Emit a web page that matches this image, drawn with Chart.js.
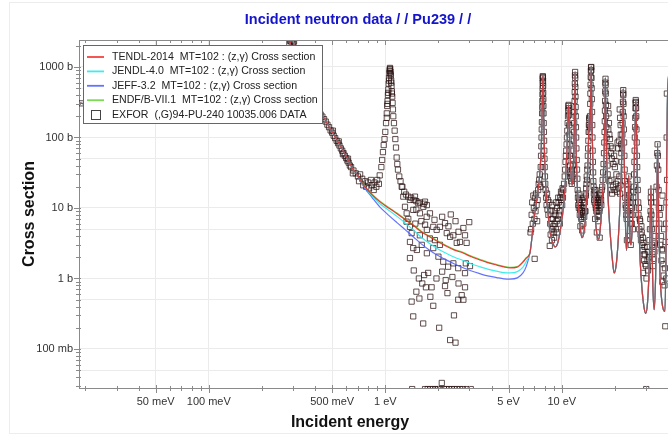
<!DOCTYPE html>
<html>
<head>
<meta charset="utf-8">
<title>Incident neutron data / / Pu239 / /</title>
<script src="https://cdn.jsdelivr.net/npm/chart.js@4.4.1/dist/chart.umd.min.js"></script>
<style>
    html, body { margin: 0; padding: 0; background: #fff; overflow: hidden; width: 668px; height: 435px; }
    canvas { display: block; }
</style>
</head>
<body>
<canvas id="xsChart" width="716" height="435"></canvas>
<script>
// Evaluated (n,g) curves, smooth part below the resolved resonances (energy in eV, xs in barns)
const lowEnergy = [0.0184, 0.0253, 0.035, 0.05, 0.07, 0.1, 0.14, 0.18, 0.22, 0.25,
    0.27, 0.285, 0.296, 0.305, 0.32, 0.35, 0.39, 0.44, 0.5, 0.55,
    0.6, 0.65, 0.7, 0.75, 0.84, 0.93, 1.05, 1.165, 1.3, 1.45,
    1.6, 1.79, 2.0, 2.2, 2.45, 2.76, 3.05, 3.4, 3.8, 4.28,
    4.7, 5.09, 5.6, 6.03, 6.3];
const tendlLow = [309, 268, 232, 200, 178, 168, 180, 225, 330, 560,
    1000, 1800, 2600, 2000, 1000, 520, 320, 205, 120, 80,
    54, 37, 28.5, 21.5, 15.5, 12.3, 9.9, 8.3, 6.8, 5.6,
    4.6, 3.88, 3.3, 2.9, 2.55, 2.3, 2.05, 1.85, 1.68, 1.55,
    1.46, 1.41, 1.45, 1.71, 1.95];
const jendlLow = [309, 268, 232, 200, 178, 168, 180, 225, 330, 560,
    1000, 1800, 2600, 2000, 1000, 520, 320, 205, 120, 80,
    54, 37, 28.5, 21, 15, 11.6, 9.2, 7.6, 6.1, 4.8,
    3.85, 3.1, 2.6, 2.3, 2.02, 1.8, 1.62, 1.48, 1.36, 1.27,
    1.21, 1.2, 1.25, 1.45, 1.75];
const jeffLow = [309, 268, 232, 200, 178, 168, 180, 225, 330, 560,
    1000, 1800, 2600, 2000, 1000, 520, 320, 205, 120, 80,
    54, 37, 28.5, 20.5, 14.2, 10.4, 7.8, 6.2, 4.9, 3.85,
    3.1, 2.5, 2.1, 1.85, 1.62, 1.42, 1.29, 1.18, 1.09, 1.03,
    0.99, 0.98, 1.02, 1.2, 1.5];
const endfLow = [309, 268, 232, 200, 178, 168, 180, 225, 330, 560,
    1000, 1800, 2600, 2000, 1000, 520, 320, 205, 120, 80,
    54, 37, 28.5, 21.9, 15.8, 12.55, 10.1, 8.47, 6.94, 5.71,
    4.69, 3.96, 3.37, 2.96, 2.6, 2.35, 2.09, 1.89, 1.71, 1.58,
    1.49, 1.44, 1.48, 1.74, 1.99];

// Resolved resonance region, shared by the four evaluations
const resEnergy = [6.6, 6.75, 6.9, 7.1, 7.3, 7.45, 7.55, 7.65, 7.72, 7.77,
    7.80, 7.82, 7.84, 7.87, 7.92, 8.0, 8.15, 8.35, 8.6, 8.9,
    9.15, 9.45, 9.75, 10.1, 10.35, 10.55, 10.7, 10.8, 10.88, 10.93,
    10.98, 11.05, 11.15, 11.3, 11.45, 11.6, 11.7, 11.78, 11.84, 11.89,
    11.94, 12.0, 12.1, 12.25, 12.5, 12.75, 13.0, 13.3, 13.6, 13.85,
    14.05, 14.2, 14.31, 14.4, 14.5, 14.6, 14.68, 14.76, 14.85, 15.0,
    15.2, 15.5, 15.8, 16.1, 16.4, 16.8, 17.1, 17.35, 17.5, 17.6,
    17.66, 17.72, 17.82, 18.0, 18.3, 18.8, 19.3, 19.8, 20.3, 20.8,
    21.3, 21.7, 22.0, 22.2, 22.29, 22.38, 22.55, 22.75, 23.0, 23.25,
    23.55, 23.8, 23.95, 24.1, 24.35, 24.7, 25.1, 25.5, 25.8, 26.05,
    26.18, 26.27, 26.38, 26.55, 26.85, 27.3, 27.8, 28.5, 29.2, 29.9,
    30.6, 31.2, 31.65, 32.0, 32.35, 32.8, 33.4, 34.0, 34.5, 34.9,
    35.3, 36.0, 37.0, 38.4, 39.0, 39.3, 39.6, 40.0, 41.0];
const resXs = [2.3, 3.5, 6, 10, 16, 25, 38, 70, 160, 380,
    700, 760, 640, 330, 130, 50, 17, 8.5, 4.4, 3.2,
    2.8, 3.1, 4.4, 8, 15, 32, 68, 135, 240, 290,
    230, 120, 55, 28, 21, 30, 55, 130, 400, 860,
    420, 140, 50, 20, 8.5, 5, 3.8, 4.3, 7, 15,
    40, 110, 200, 120, 170, 500, 1030, 480, 150, 45,
    16, 7, 4.3, 3.6, 4.2, 9, 20, 55, 130, 380,
    700, 380, 130, 45, 14, 4.5, 2, 1.2, 1.5, 3,
    9, 28, 90, 280, 490, 280, 70, 18, 5, 2.5,
    4, 14, 29, 12, 4, 3, 5.5, 16, 55, 150,
    270, 340, 250, 100, 25, 6, 1.8, 0.7, 0.4, 0.32,
    0.45, 1.2, 5, 21, 5, 0.8, 0.36, 1.0, 8, 83,
    10, 1.2, 0.45, 0.34, 3, 40, 250, 600, 900];

// EXFOR 10035.006 measured points (eV, barns)
const exforEnergy = [
    0.019, 0.286, 0.289, 0.292, 0.295, 0.298, 0.301, 0.304,
    0.42, 0.43, 0.44, 0.45, 0.46, 0.47, 0.48, 0.49, 0.50, 0.505, 0.51, 0.52, 0.53, 0.54, 0.545, 0.55, 0.56, 0.57, 0.575, 0.58, 0.59, 0.60, 0.61, 0.615, 0.62, 0.63, 0.64, 0.655, 0.66, 0.68, 0.70,
    0.71, 0.72, 0.74, 0.75, 0.77, 0.78, 0.80, 0.81, 0.83, 0.84, 0.86, 0.87, 0.89, 0.90, 0.92, 0.93, 0.95, 0.96,
    0.97, 0.98, 0.99, 1.00, 1.01, 1.02, 1.025, 1.03, 1.035, 1.04, 1.045, 1.05, 1.055, 1.06, 1.063, 1.066, 1.07, 1.075, 1.08, 1.085, 1.09, 1.095, 1.10, 1.105, 1.11, 1.12, 1.13, 1.14, 1.15, 1.16, 1.17, 1.18, 1.20, 1.22, 1.25, 1.28, 1.31, 1.35, 1.40, 1.45, 1.50, 1.57, 1.65, 1.72,
    1.04, 1.05, 1.06, 1.07, 1.08, 1.09, 1.03, 1.02,
    1.239, 1.265, 1.293, 1.322, 1.38, 1.441, 1.473, 1.538, 1.572, 1.642, 1.679, 1.716, 1.791, 1.87, 1.955, 2.04, 2.18, 2.23, 2.35, 2.33, 2.43, 2.54, 2.65, 2.77, 2.83,
    1.41, 1.38, 1.44, 1.51, 1.61, 1.72, 1.87, 2.0, 2.13, 2.27, 2.43, 2.59, 1.38, 1.32, 1.57, 1.72, 1.79, 1.91, 2.04,
    1.38, 1.41, 1.44, 1.56, 1.64, 1.66, 1.70, 1.83, 1.87, 2.02, 2.18, 2.33, 2.45, 2.50, 2.59, 2.71, 2.77, 2.83, 2.83, 2.89, 2.99, 3.02, 2.86,
    1.45, 1.55, 1.62, 1.75, 1.95, 2.1, 2.2, 2.4, 2.6, 2.25, 1.5, 1.8,
    1.35, 1.48, 1.6, 1.68, 1.5, 1.9, 2.1, 2.28, 2.5, 2.6,
    1.42, 1.68, 1.74, 1.8, 1.86, 1.92, 1.98, 2.04, 2.09, 2.15, 2.22, 2.3, 2.38, 2.46, 2.55, 2.65, 2.75, 2.9, 3.05, 30.1,
    6.65, 6.7, 6.75, 6.8, 6.85, 6.9, 6.95, 7.0, 7.02, 7.05, 7.1, 7.15, 7.2, 7.25, 7.3, 7.35, 7.4,
    7.45, 7.5, 7.55, 7.6, 7.63, 7.66, 7.68, 7.7, 7.72, 7.74, 7.75, 7.76, 7.77, 7.78, 7.79, 7.80, 7.81, 7.82, 7.83, 7.84, 7.85, 7.86, 7.87, 7.88, 7.9, 7.92, 7.94, 7.96, 7.98, 8.0, 8.03, 8.06, 8.1,
    8.15, 8.2, 8.25, 8.3, 8.35, 8.4, 8.5, 8.55, 8.6, 8.65, 8.7, 8.75, 8.8, 8.8, 8.85, 8.9, 8.95, 9.0, 9.05, 9.1, 9.15, 9.2, 9.25, 9.3, 9.35, 9.4, 9.45, 9.5, 9.55, 9.6, 9.65, 9.7, 9.75, 9.8, 9.85, 9.9, 9.95, 10.0, 10.05, 10.1, 10.15,
    10.2, 10.3, 10.4, 10.45, 10.5, 10.55, 10.6, 10.65, 10.7, 10.75, 10.8, 10.85, 10.88, 10.91, 10.93, 10.96, 10.99, 11.02, 11.05, 11.08, 11.12, 11.16, 11.2,
    11.25, 11.3, 11.35, 11.4, 11.45, 11.5, 11.55, 11.6, 11.65, 11.7, 11.73, 11.76, 11.79, 11.82, 11.84, 11.86, 11.88, 11.9, 11.92, 11.94, 11.96, 11.98, 12.0, 12.03, 12.06, 12.1, 12.15, 12.2, 12.25,
    12.3, 12.35, 12.4, 12.45, 12.5, 12.55, 12.6, 12.65, 12.7, 12.75, 12.8, 12.85, 12.9, 12.95, 13.0, 13.05, 13.1, 13.15, 13.2, 13.25, 13.3, 13.35, 13.4, 13.45, 13.5, 13.55, 13.6, 13.65, 13.7, 13.75, 13.8,
    13.85, 13.9, 13.95, 14.0, 14.05, 14.1, 14.15, 14.2, 14.25, 14.3, 14.33, 14.36, 14.4, 14.43, 14.46, 14.5, 14.53, 14.56, 14.59, 14.62, 14.65, 14.68, 14.71, 14.74, 14.77, 14.8, 14.84, 14.88, 14.92, 14.96, 15.0, 15.05, 15.1,
    15.15, 15.2, 15.25, 15.3, 15.35, 15.4, 15.45, 15.5, 15.55, 15.6, 15.65, 15.7, 15.75, 15.8, 15.85, 15.9, 15.95, 16.0, 16.05, 16.1, 16.15, 16.2, 16.25, 16.3, 16.35, 16.4, 16.45, 16.5, 16.55, 16.6, 16.7, 16.75, 16.85,
    16.95, 17.05, 17.15, 17.25, 17.35, 17.42, 17.48, 17.53, 17.57, 17.6, 17.63, 17.66, 17.69, 17.72, 17.75, 17.79, 17.83, 17.88, 17.94, 18.0, 18.07, 18.15,
    18.3, 18.4, 18.5, 18.35, 18.6, 18.75, 18.9, 19.0, 19.2, 19.4, 19.6, 19.8, 20.0, 20.2, 20.4, 19.1, 19.5, 19.9, 20.3, 20.6, 20.8, 21.0, 21.2, 21.4, 21.5, 21.3, 21.4, 21.55, 21.6, 21.7, 21.75, 20.7, 20.9, 21.1, 18.2, 18.6, 18.9, 19.3,
    21.85, 21.95, 22.05, 22.12, 22.18, 22.23, 22.27, 22.3, 22.33, 22.37, 22.42, 22.48, 22.55, 22.63, 22.72, 22.8,
    22.9, 23.0, 23.1, 23.2, 23.3, 23.4, 23.5, 23.6, 23.7, 23.8, 23.9, 24.0, 24.1, 24.2, 24.3, 24.4, 24.5, 24.6, 24.7, 24.8, 24.9, 25.0, 25.1, 25.2, 25.3, 25.4, 25.5,
    25.6, 25.7, 25.8, 25.88, 25.95, 26.02, 26.08, 26.14, 26.2, 26.25, 26.3, 26.36, 26.42, 26.5, 26.58, 26.66, 26.75, 26.85, 26.95,
    27.1, 27.2, 27.35, 27.5, 27.65, 27.8, 27.95, 28.1, 28.25, 28.4, 28.55, 28.7, 28.85, 28.9, 29.0, 29.15, 29.3, 29.45, 29.6, 29.75, 30.0, 30.2, 30.4, 30.6, 30.8, 31.0, 31.2, 31.4,
    31.6, 31.75, 31.85, 31.95, 32.02, 32.1, 32.2, 32.35, 32.5, 32.7, 32.9, 33.1, 33.3, 33.5, 33.7, 33.9, 34.1, 34.3, 34.45, 34.6, 34.75, 34.9, 35.05, 35.2, 35.35, 35.5,
    35.7, 35.9, 36.1, 36.3, 36.5, 36.7, 36.9, 37.1, 37.2, 37.35, 37.6, 37.8, 38.0, 38.2, 38.4, 38.6, 38.8, 39.0, 39.1, 39.2, 39.3, 39.4, 39.5
];
const exforXs = [
    305, 2200, 2350, 2300, 2380, 2250, 2150, 2300,
    230, 212, 198, 182, 168, 152, 140, 126, 117, 125, 106, 98, 90, 83, 88, 77, 70, 65, 58, 60, 55, 51, 47, 50, 44, 40, 38, 31, 34, 31, 28,
    24, 30, 26, 21, 24, 20, 23, 19, 25, 21, 18, 23, 20, 25, 22, 29, 38, 48,
    62, 78, 95, 120, 160, 220, 280, 330, 400, 480, 580, 700, 820, 920, 970, 940, 860, 760, 640, 540, 450, 380, 310, 250, 200, 160, 125, 95, 72, 52, 42, 35, 28, 24, 20, 17, 15.5, 14.5, 14, 13, 12.5, 12, 11.5, 11,
    430, 640, 880, 800, 600, 420, 300, 190,
    20.0, 14.5, 10.4, 8.4, 13.0, 9.4, 14.5, 11.7, 8.4, 10.4, 12.3, 7.5, 8.4, 5.4, 4.9, 5.4, 6.1, 4.4, 8.1, 3.9, 4.1, 3.2, 3.3, 5.2, 4.1,
    4.4, 3.3, 2.7, 2.54, 3.0, 2.28, 2.7, 2.04, 1.73, 1.47, 1.64, 1.40, 5.4, 6.4, 4.1, 4.9, 3.7, 3.5, 3.0,
    1.95, 0.47, 0.29, 0.52, 0.23, 1.12, 0.75, 0.75, 0.41, 0.20, 0.78, 0.134, 0.30, 0.123, 0.50, 0.58, 0.50, 0.75, 1.19, 3.2, 6.3, 1.50, 1.64,
    1.3, 1.0, 0.85, 1.2, 1.0, 1.25, 0.95, 1.05, 0.85, 0.62, 0.65, 0.55,
    7, 6, 6.5, 5.8, 9.5, 6.8, 7.5, 5.5, 6.5, 4.6,
    0.027, 0.027, 0.027, 0.027, 0.027, 0.027, 0.027, 0.027, 0.033, 0.027, 0.027, 0.027, 0.027, 0.027, 0.027, 0.027, 0.027, 0.027, 0.027, 0.027,
    4.5, 5, 8, 12, 6, 15, 10, 7, 1.9, 14, 9, 16, 11, 6.5, 13, 18, 22,
    25, 30, 20, 38, 55, 75, 100, 130, 165, 220, 270, 330, 410, 500, 600, 690, 740, 720, 640, 540, 430, 350, 280, 220, 160, 120, 90, 65, 50, 38, 28, 22, 18,
    14, 11, 16, 9.5, 13, 8, 12, 2.9, 6, 4.2, 9, 7, 5, 3.5, 11, 7, 5.5, 4.5, 3.8, 6, 9, 8, 5, 12, 6.5, 10, 4.5, 7, 14, 12, 8, 9, 6, 14, 11, 17, 13, 16, 11, 19, 14,
    18, 22, 28, 35, 45, 55, 65, 80, 100, 125, 160, 200, 240, 280, 290, 260, 210, 150, 110, 80, 55, 40, 32,
    27, 24, 30, 22, 35, 28, 40, 50, 65, 90, 120, 160, 230, 330, 440, 580, 760, 850, 700, 520, 380, 270, 200, 140, 100, 70, 48, 35, 26,
    18, 14, 11, 16, 10, 13, 12, 8, 9.5, 5.5, 11, 7.5, 7, 10, 9, 4.8, 13, 8, 8.5, 6, 10, 12, 7.5, 14, 12, 9, 9, 16, 15, 19, 22,
    28, 25, 35, 40, 55, 70, 90, 120, 150, 190, 180, 150, 120, 140, 200, 300, 420, 560, 720, 880, 990, 1000, 900, 700, 500, 350, 230, 150, 100, 65, 45, 32, 24,
    20, 16, 13, 18, 12, 15, 7, 18, 11, 10, 13, 9, 14, 4.5, 11, 9, 13, 12, 7.5, 6.5, 8, 11, 14, 13, 9, 3.8, 10, 12, 16, 15, 13, 11, 18,
    20, 25, 32, 42, 60, 85, 120, 170, 240, 330, 450, 600, 680, 560, 420, 290, 200, 140, 100, 75, 55, 40,
    280, 220, 160, 130, 110, 95, 75, 60, 50, 70, 42, 55, 38, 46, 30, 25, 20, 18, 22, 17, 24, 19, 28, 16, 21, 250, 190, 150, 110, 80, 60, 85, 70, 90, 30, 24, 18, 16,
    45, 70, 110, 160, 230, 320, 420, 470, 400, 300, 200, 130, 85, 55, 35, 24,
    14, 11, 10, 8, 7, 3.5, 12, 9, 18, 22, 28, 4, 15, 12, 9, 7, 8, 3.0, 6, 10, 6, 10, 8, 12, 5, 14, 17,
    20, 30, 45, 65, 100, 140, 190, 260, 310, 340, 320, 260, 200, 130, 85, 55, 38, 25, 18,
    12, 8, 10, 5, 7, 6.5, 4.2, 3.5, 5.5, 4.5, 3, 2.5, 3.8, 1.2, 3.2, 2.2, 1.8, 2.8, 2.2, 1.6, 1.5, 1.0, 2.8, 1.8, 1.3, 2.4, 2, 3.5,
    5, 7, 9, 14, 17, 12, 8, 5, 3, 2.2, 1.5, 2.8, 1.9, 2.4, 3.2, 4, 6, 12, 20, 40, 60, 80, 55, 35, 18, 10,
    6, 8, 3, 10, 4, 1.8, 2.6, 0.9, 15, 2.5, 1.6, 1.1, 5, 0.8, 1.4, 0.21, 3.3, 6, 1.0, 12, 100, 420, 25
];

// Axis ranges and labelled ticks
const xMin = 0.01839;
const xMax = 60.7;
const yMin = 0.02797;
const yMax = 2415;
const xLabelValues = [0.05, 0.1, 0.5, 1, 5, 10, 50];
const xLabelText = ['50 meV', '100 meV', '500 meV', '1 eV', '5 eV', '10 eV', '50 eV'];
const yLabelValues = [0.1, 1, 10, 100, 1000];
const yLabelText = ['100 mb', '1 b', '10 b', '100 b', '1000 b'];

const seriesLabels = [
    'TENDL-2014  MT=102 : (z,\u03b3) Cross section',
    'JENDL-4.0  MT=102 : (z,\u03b3) Cross section',
    'JEFF-3.2  MT=102 : (z,\u03b3) Cross section',
    'ENDF/B-VII.1  MT=102 : (z,\u03b3) Cross section',
    'EXFOR  (,G)94-PU-240 10035.006 DATA'
];

const frameColor = '#8a8a8a';
const gridColor = '#ebebeb';
const fontFamily = '"Liberation Sans", Arial, Helvetica, sans-serif';

function decadeTicks(min, max) {
    const out = [];
    for (let d = Math.floor(Math.log10(min)); d <= Math.ceil(Math.log10(max)); d++) {
        for (let m = 1; m <= 9; m++) {
            const v = Number((m * Math.pow(10, d)).toPrecision(6));
            if (v >= min && v <= max) out.push(v);
        }
    }
    return out;
}

function sameValue(a, b) {
    return Math.abs(a - b) <= 1e-9 * Math.max(Math.abs(a), Math.abs(b));
}

function labelFor(v, values, texts) {
    const i = values.findIndex(u => sameValue(u, v));
    return i < 0 ? '' : texts[i];
}

// grid lines only at 1x and 5x of each decade
function isGridValue(v) {
    const m = v / Math.pow(10, Math.floor(Math.log10(v) + 1e-9));
    return Math.abs(m - 1) < 1e-6 || Math.abs(m - 5) < 1e-6;
}

function toPoints(energies, values) {
    return energies.map((e, i) => ({ x: e, y: values[i] }));
}

const curveEnergy = lowEnergy.concat(resEnergy);
const xTicks = decadeTicks(xMin, xMax);
const yTicks = decadeTicks(yMin, yMax);

function curve(label, values, color) {
    return {
        label: label,
        data: toPoints(curveEnergy, values.concat(resXs)),
        showLine: true,
        borderColor: color,
        backgroundColor: color,
        borderWidth: 1.2,
        pointRadius: 0,
        cubicInterpolationMode: 'monotone',
        fill: false
    };
}

// Legend box, axis titles, page title, tick marks and frame
const decorPlugin = {
    id: 'decor',
    beforeDraw(chart) {
        const { ctx } = chart;
        ctx.save();
        ctx.fillStyle = '#fff';
        ctx.fillRect(0, 0, chart.width, chart.height);
        ctx.strokeStyle = '#ededed';
        ctx.lineWidth = 1;
        ctx.strokeRect(9.5, 2.5, chart.width, chart.height - 4);
        ctx.restore();
    },
    afterDraw(chart) {
        const { ctx, chartArea: area, scales: { x, y } } = chart;
        ctx.save();

        // top frame line
        ctx.strokeStyle = frameColor;
        ctx.lineWidth = 1;
        ctx.beginPath();
        ctx.moveTo(area.left, area.top + 0.5);
        ctx.lineTo(area.right, area.top + 0.5);
        ctx.stroke();

        // tick marks
        ctx.beginPath();
        x.ticks.forEach(t => {
            const px = Math.round(x.getPixelForValue(t.value)) + 0.5;
            const major = labelFor(t.value, xLabelValues, xLabelText) !== '';
            ctx.moveTo(px, area.bottom - (major ? 3 : 2));
            ctx.lineTo(px, area.bottom + (major ? 5 : 3));
            ctx.moveTo(px, area.top);
            ctx.lineTo(px, area.top + (major ? 5 : 3));
        });
        y.ticks.forEach(t => {
            const py = Math.round(y.getPixelForValue(t.value)) + 0.5;
            const major = labelFor(t.value, yLabelValues, yLabelText) !== '';
            ctx.moveTo(area.left - (major ? 5 : 3), py);
            ctx.lineTo(area.left + 2, py);
        });
        ctx.stroke();

        // legend
        const lx = 83, ly = 45, lw = 240, lh = 79;
        ctx.fillStyle = '#fff';
        ctx.fillRect(lx, ly, lw, lh);
        ctx.strokeStyle = '#666';
        ctx.strokeRect(lx + 0.5, ly + 0.5, lw - 1, lh - 1);
        ctx.font = '10.6px ' + fontFamily;
        ctx.textBaseline = 'middle';
        ctx.textAlign = 'left';
        chart.data.datasets.forEach((ds, i) => {
            const rowY = 57 + i * 14.4;
            if (ds.showLine) {
                ctx.strokeStyle = ds.borderColor;
                ctx.lineWidth = 1.8;
                ctx.beginPath();
                ctx.moveTo(87, rowY);
                ctx.lineTo(104, rowY);
                ctx.stroke();
            } else {
                ctx.strokeStyle = '#444';
                ctx.lineWidth = 1;
                ctx.strokeRect(91.5, Math.round(rowY) - 4.5, 9, 9);
            }
            ctx.fillStyle = '#222';
            ctx.fillText(ds.label, 112, rowY);
        });

        // titles
        ctx.textAlign = 'center';
        ctx.fillStyle = '#1414cc';
        ctx.font = 'bold 14.5px ' + fontFamily;
        ctx.fillText('Incident neutron data / / Pu239 / /', 358, 20);
        ctx.fillStyle = '#111';
        ctx.font = 'bold 16px ' + fontFamily;
        ctx.fillText('Incident energy', 350, 423);
        ctx.translate(30, 214);
        ctx.rotate(-Math.PI / 2);
        ctx.fillText('Cross section', 0, 0);
        ctx.restore();
    }
};

Chart.defaults.font.family = fontFamily;

new Chart(document.getElementById('xsChart').getContext('2d'), {
    type: 'scatter',
    data: {
        datasets: [
            curve(seriesLabels[0], tendlLow, 'rgba(240, 20, 20, 0.8)'),
            curve(seriesLabels[1], jendlLow, 'rgba(40, 235, 235, 0.9)'),
            curve(seriesLabels[2], jeffLow, 'rgba(70, 90, 255, 0.85)'),
            curve(seriesLabels[3], endfLow, 'rgba(90, 210, 40, 0.8)'),
            {
                label: seriesLabels[4],
                data: toPoints(exforEnergy, exforXs),
                showLine: false,
                pointStyle: 'rect',
                pointRadius: 3.7,
                borderWidth: 1,
                borderColor: 'rgba(45, 22, 22, 0.75)',
                backgroundColor: 'rgba(255, 255, 255, 0)'
            }
        ]
    },
    options: {
        responsive: false,
        animation: false,
        devicePixelRatio: 1,
        events: [],
        layout: { padding: { top: 40, right: 16, bottom: 0, left: 0 } },
        plugins: {
            legend: { display: false },
            title: { display: false },
            tooltip: { enabled: false }
        },
        scales: {
            x: {
                type: 'logarithmic',
                min: xMin,
                max: xMax,
                bounds: 'data',
                afterBuildTicks: s => { s.ticks = xTicks.map(v => ({ value: v })); },
                afterFit: s => { s.height = 47; },
                border: { display: true, color: frameColor, width: 1 },
                grid: {
                    drawTicks: false,
                    color: c => (c.tick && isGridValue(c.tick.value)) ? gridColor : 'rgba(0,0,0,0)'
                },
                ticks: {
                    autoSkip: false,
                    maxRotation: 0,
                    minRotation: 0,
                    padding: 7,
                    color: '#333',
                    font: { size: 11 },
                    callback: v => labelFor(v, xLabelValues, xLabelText)
                }
            },
            y: {
                type: 'logarithmic',
                min: yMin,
                max: yMax,
                bounds: 'data',
                afterBuildTicks: s => { s.ticks = yTicks.map(v => ({ value: v })); },
                afterFit: s => { s.width = 79; },
                border: { display: true, color: frameColor, width: 1 },
                grid: {
                    drawTicks: false,
                    color: c => (c.tick && isGridValue(c.tick.value)) ? gridColor : 'rgba(0,0,0,0)'
                },
                ticks: {
                    autoSkip: false,
                    padding: 6,
                    color: '#333',
                    font: { size: 11 },
                    callback: v => labelFor(v, yLabelValues, yLabelText)
                }
            }
        }
    },
    plugins: [decorPlugin]
});
</script>
</body>
</html>
